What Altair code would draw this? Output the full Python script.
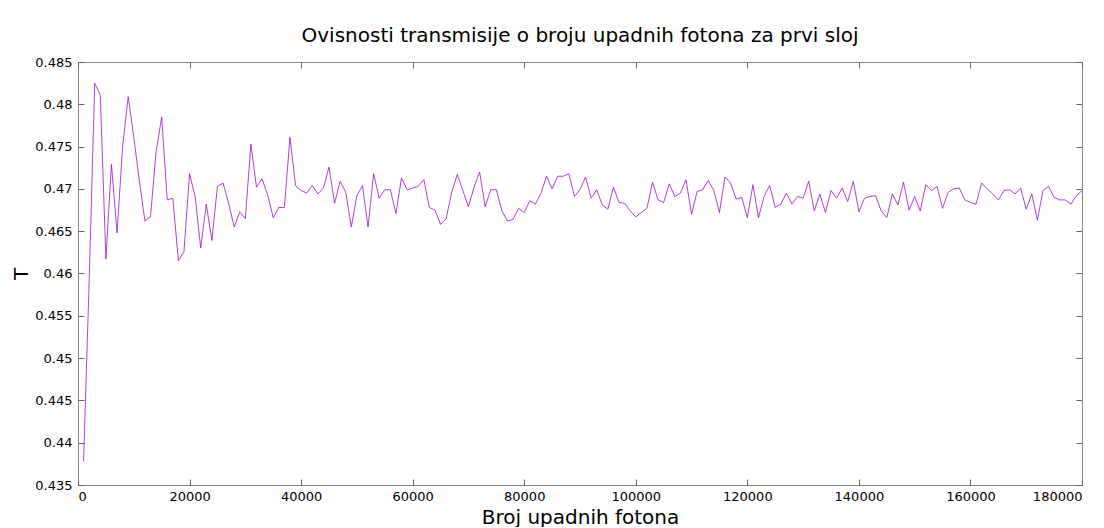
import altair as alt
import pandas as pd

photons = list(range(1000, 181000, 1000))
transmission = [
    0.4378, 0.4590, 0.4825, 0.4811, 0.4617, 0.4729, 0.4648, 0.4750, 0.4809, 0.4761,
    0.4710, 0.4662, 0.4667, 0.4744, 0.4785, 0.4687, 0.4689, 0.4615, 0.4626, 0.4718,
    0.4691, 0.4630, 0.4682, 0.4639, 0.4703, 0.4707, 0.4683, 0.4655, 0.4673, 0.4665,
    0.4753, 0.4702, 0.4712, 0.4693, 0.4666, 0.4678, 0.4678, 0.4761, 0.4704, 0.4698,
    0.4695, 0.4704, 0.4694, 0.4701, 0.4726, 0.4683, 0.4709, 0.4696, 0.4655, 0.4692,
    0.4704, 0.4655, 0.4718, 0.4689, 0.4699, 0.4699, 0.4671, 0.4713, 0.4699, 0.4701,
    0.4703, 0.4711, 0.4678, 0.4675, 0.4658, 0.4665, 0.4696, 0.4717, 0.4698, 0.4679,
    0.4702, 0.4720, 0.4679, 0.4699, 0.4699, 0.4674, 0.4662, 0.4664, 0.4677, 0.4672,
    0.4686, 0.4682, 0.4695, 0.4715, 0.4700, 0.4715, 0.4715, 0.4718, 0.4691, 0.4699,
    0.4714, 0.4689, 0.4699, 0.4681, 0.4676, 0.4702, 0.4684, 0.4683, 0.4674, 0.4667,
    0.4672, 0.4677, 0.4708, 0.4687, 0.4684, 0.4706, 0.4691, 0.4695, 0.4711, 0.4670,
    0.4697, 0.4699, 0.4710, 0.4698, 0.4672, 0.4714, 0.4707, 0.4688, 0.4690, 0.4666,
    0.4705, 0.4666, 0.4691, 0.4704, 0.4678, 0.4682, 0.4695, 0.4682, 0.4691, 0.4689,
    0.4709, 0.4674, 0.4694, 0.4672, 0.4698, 0.4689, 0.4701, 0.4685, 0.4709, 0.4673,
    0.4689, 0.4691, 0.4692, 0.4674, 0.4666, 0.4694, 0.4681, 0.4708, 0.4675, 0.4691,
    0.4674, 0.4705, 0.4698, 0.4703, 0.4677, 0.4696, 0.4700, 0.4701, 0.4687, 0.4684,
    0.4682, 0.4707, 0.4700, 0.4694, 0.4687, 0.4698, 0.4699, 0.4694, 0.4701, 0.4676,
    0.4694, 0.4663, 0.4698, 0.4703, 0.4690, 0.4687, 0.4687, 0.4682, 0.4692, 0.4698,
]
x_ticks = [0, 20000, 40000, 60000, 80000, 100000, 120000, 140000, 160000, 180000]
y_ticks = [0.435, 0.44, 0.445, 0.45, 0.455, 0.46, 0.465, 0.47, 0.475, 0.48, 0.485]

df = pd.DataFrame({"N": photons, "T": transmission})

FONT = "DejaVu Sans"
xscale = alt.Scale(domain=[0, 180000], nice=False)
yscale = alt.Scale(domain=[0.435, 0.485], nice=False, zero=False)

base = alt.Chart(df)

line = base.mark_line(color="#9400d3", strokeWidth=1, opacity=0.75).encode(
    x=alt.X("N:Q", scale=xscale, axis=alt.Axis(
        orient="bottom", values=x_ticks, format="d", offset=-6, tickSize=6,
        labelPadding=5, domain=False, grid=False, title="Broj upadnih fotona",
        titleFontSize=20, titleFontWeight="normal", titlePadding=4,
        labelFontSize=13, labelColor="#000", tickColor="#666", titleColor="#000")),
    y=alt.Y("T:Q", scale=yscale, axis=alt.Axis(
        orient="left", values=y_ticks, format=".3~f", offset=-6, tickSize=6,
        labelPadding=6, domain=False, grid=False, title="T",
        titleFontSize=20, titleFontWeight="normal", titlePadding=3,
        labelFontSize=13, labelColor="#000", tickColor="#666", titleColor="#000")),
)

mirror = base.mark_line(opacity=0).encode(
    x=alt.X("N:Q", scale=xscale, axis=alt.Axis(
        orient="top", values=x_ticks, labels=False, offset=-6, tickSize=6,
        domain=False, grid=False, title="", titlePadding=0, tickColor="#666")),
    y=alt.Y("T:Q", scale=yscale, axis=alt.Axis(
        orient="right", values=y_ticks, labels=False, offset=-6, tickSize=6,
        domain=False, grid=False, title="", titlePadding=0, tickColor="#666")),
)

chart = alt.layer(line, mirror).resolve_axis(
    x="independent", y="independent"
).properties(
    width=1004,
    height=423,
    title=alt.TitleParams(
        "Ovisnosti transmisije o broju upadnih fotona za prvi sloj",
        fontSize=20, fontWeight="normal", font=FONT, color="#000",
        anchor="middle", baseline="alphabetic", offset=26, dy=32,
    ),
    autosize=alt.AutoSizeParams(type="none"),
    padding={"left": 70, "top": 54, "right": 14, "bottom": 42},
).configure(
    font=FONT,
).configure_axis(
    labelFont=FONT, titleFont=FONT,
).configure_view(
    stroke="#888", strokeWidth=1,
)

chart.save("out.html", embed_options={"renderer": "svg", "actions": False})
